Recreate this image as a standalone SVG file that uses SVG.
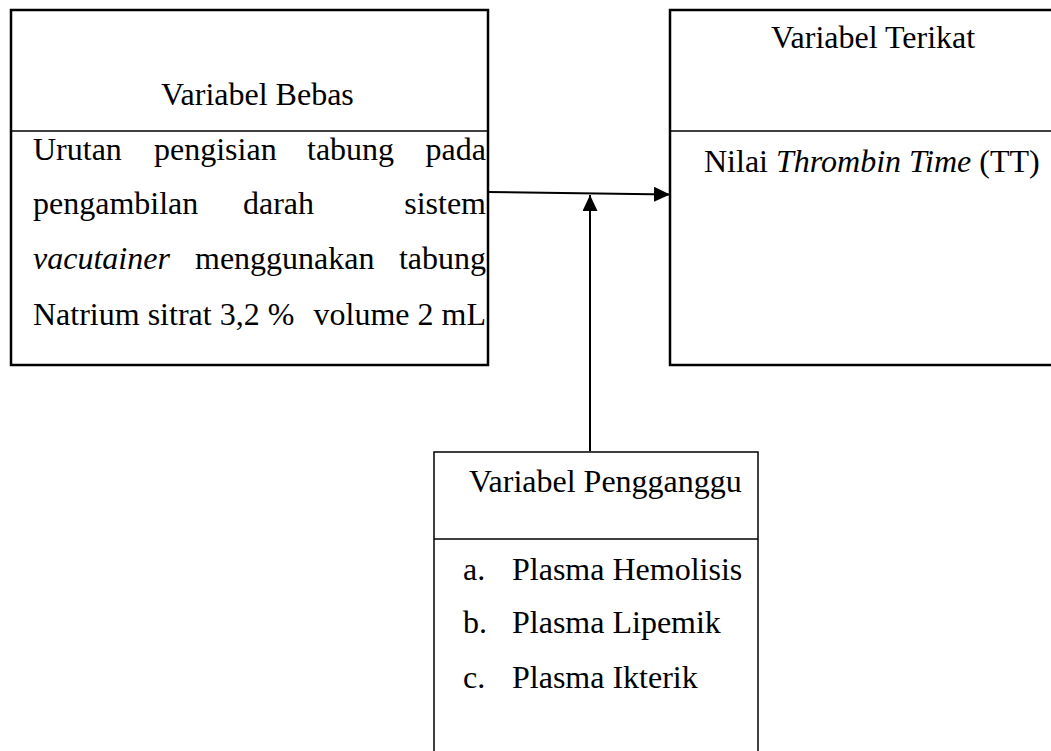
<svg xmlns="http://www.w3.org/2000/svg" width="1051" height="751" viewBox="0 0 1051 751">
<style>
text{font-family:"Liberation Serif","Times New Roman",serif;font-size:32px;fill:#000}
.it{font-style:italic}
.box{fill:#fff;stroke:#000}
.thick{stroke-width:2.5}
.thin{stroke-width:1.5}
.div{stroke:#000;stroke-width:1.5}
.conn{stroke:#000;stroke-width:2;fill:none}
</style>
<defs>
<marker id="ah" markerWidth="16" markerHeight="15" refX="16" refY="7.5" orient="auto" markerUnits="userSpaceOnUse">
<path d="M0,0 L16,7.5 L0,15 Z" fill="#000"/>
</marker>
</defs>
<rect width="1051" height="751" fill="#fff"/>
<g id="bebas">
<rect class="box thick" x="11" y="10" width="477" height="355"/>
<line class="div" x1="12" y1="131" x2="487" y2="131"/>
<text x="161" y="105">Variabel Bebas</text>
<text x="33" y="160">Urutan</text>
<text x="154" y="160">pengisian</text>
<text x="307" y="160">tabung</text>
<text x="486" y="160" text-anchor="end">pada</text>
<text x="33" y="214">pengambilan</text>
<text x="243" y="214">darah</text>
<text x="486" y="214" text-anchor="end">sistem</text>
<text x="33" y="269" class="it">vacutainer</text>
<text x="195" y="269">menggunakan</text>
<text x="486" y="269" text-anchor="end">tabung</text>
<text x="33" y="325">Natrium sitrat 3,2 %</text>
<text x="486" y="325" text-anchor="end">volume 2 mL</text>
</g>
<g id="terikat">
<rect class="box thick" x="670" y="10" width="400" height="355"/>
<line class="div" x1="671" y1="131" x2="1051" y2="131"/>
<text x="771" y="48">Variabel Terikat</text>
<text x="704" y="172">Nilai <tspan class="it">Thrombin Time</tspan> (TT)</text>
</g>
<g id="pengganggu">
<rect class="box thin" x="434" y="452" width="324" height="320"/>
<line class="div" x1="434" y1="539" x2="758" y2="539"/>
<text x="469" y="492">Variabel Pengganggu</text>
<text x="463" y="580">a.</text>
<text x="512" y="580">Plasma Hemolisis</text>
<text x="463" y="633">b.</text>
<text x="512" y="633">Plasma Lipemik</text>
<text x="463" y="688">c.</text>
<text x="512" y="688">Plasma Ikterik</text>
</g>
<g id="connectors">
<line class="conn" x1="488" y1="192" x2="670" y2="194.5" marker-end="url(#ah)"/>
<line class="conn" x1="590" y1="451" x2="590" y2="195" marker-end="url(#ah)"/>
</g>
</svg>
